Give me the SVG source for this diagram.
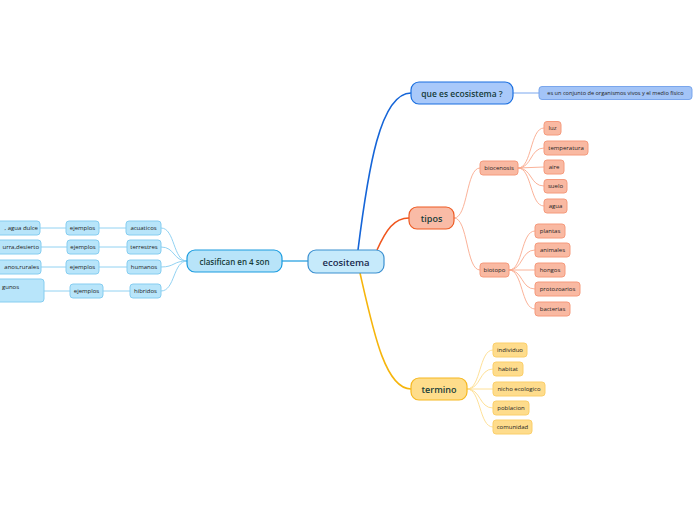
<svg xmlns="http://www.w3.org/2000/svg" width="696" height="520" viewBox="0 0 696 520">
<style>
text{font-family:"Open Sans","Noto Sans","DejaVu Sans",sans-serif;text-anchor:middle;dominant-baseline:central}
.main{font-size:9px;fill:#173d3a;font-weight:600}
.leaf{font-size:6px;fill:#222}
.blueL{fill:#b8e5fa;stroke:#86cdf0;stroke-width:1}
.org{fill:#f9b9a2;stroke:#f59a7d;stroke-width:1}
.yel{fill:#fedc8c;stroke:#fbcf6a;stroke-width:1}
.c{fill:none}
</style>
<rect width="696" height="520" fill="#fff"/>
<g id="connectors" class="c">
<path d="M358,250 C368,170 380,93 411,93" stroke="#1565d8" stroke-width="1.6" fill="none"/>
<path d="M377,250 C386,230 394,218 409,218" stroke="#f0561e" stroke-width="1.6" fill="none"/>
<path d="M360,273 C373,330 385,389 411,389" stroke="#f6b50c" stroke-width="1.6" fill="none"/>
<path d="M282,261 L308,261" stroke="#1a9ce0" stroke-width="1.2" fill="none"/>
<path d="M513,93 L539,93" stroke="#7aa7ee" stroke-width="1" fill="none"/>
<g stroke="#f9a98d" stroke-width="0.9" fill="none">
<path d="M454,218 C468,218 466,168 480,168"/>
<path d="M454,218 C468,218 466,270 480,270"/>
<path d="M518,168 C532,168 530,128 544,128"/>
<path d="M518,168 C532,168 530,148 544,148"/>
<path d="M518,168 L544,167"/>
<path d="M518,168 C532,168 530,186 544,186"/>
<path d="M518,168 C532,168 530,206 544,206"/>
<path d="M509,270 C523,270 521,231 535,231"/>
<path d="M509,270 C523,270 521,250 535,250"/>
<path d="M509,270 L535,270"/>
<path d="M509,270 C523,270 521,289 535,289"/>
<path d="M509,270 C523,270 521,309 535,309"/>
</g>
<g stroke="#fedc8c" stroke-width="0.9" fill="none">
<path d="M467,389 C481,389 479,350 493,350"/>
<path d="M467,389 C481,389 479,369 493,369"/>
<path d="M467,389 L493,389"/>
<path d="M467,389 C481,389 479,408 493,408"/>
<path d="M467,389 C481,389 479,427 493,427"/>
</g>
<g stroke="#86cdf0" stroke-width="0.9" fill="none">
<path d="M187,261 C173,261 175,228 161,228"/>
<path d="M187,261 C173,261 175,247 161,247"/>
<path d="M187,261 C173,261 175,267 161,267"/>
<path d="M187,261 C173,261 175,291 161,291"/>
<path d="M126,228 L99,228"/>
<path d="M127,247 L99,247"/>
<path d="M127,267 L99,267"/>
<path d="M130,291 L103,291"/>
<path d="M66,228 L40,228"/>
<path d="M67,247 L41,247"/>
<path d="M66,267 L41,267"/>
<path d="M70,291 L44,291"/>
</g>
</g>
<g id="ecositema"><rect x="308" y="250" width="76" height="23" rx="8" fill="#c6eafb" stroke="#3a8fd0" stroke-width="1.2"/><text x="346" y="262" class="main" style="font-size:9.5px;fill:#1a2a50">ecositema</text></g>
<g id="clasifican"><rect x="187" y="250" width="95" height="22" rx="8" fill="#b8e4f9" stroke="#1a9ce0" stroke-width="1.2"/><text x="234.5" y="261" class="main" style="font-size:8px">clasifican en 4 son</text></g>
<g id="queEs"><rect x="411" y="82" width="102" height="22" rx="8" fill="#a9c9fa" stroke="#1a6fe0" stroke-width="1.2"/><text x="462" y="93" class="main" style="font-size:8.5px">que es ecosistema ?</text></g>
<g id="conjunto"><rect x="539" y="86.5" width="153" height="13" rx="3" fill="#a3c4f7" stroke="#6f9fea" stroke-width="0.9"/><text x="615.5" y="93" class="leaf" style="font-size:5.6px">es un conjunto de organismos vivos y el medio físico</text></g>
<g id="tipos"><rect x="409" y="207" width="45" height="22" rx="8" fill="#f9bba6" stroke="#ee5a22" stroke-width="1.2"/><text x="431.5" y="218" class="main">tipos</text></g>
<g id="biocenosis"><rect x="480" y="161" width="38" height="14" rx="3" class="org"/><text x="499" y="168" class="leaf">biocenosis</text></g>
<g id="luz"><rect x="544" y="121.5" width="17" height="13.5" rx="3" class="org"/><text x="552.5" y="128" class="leaf">luz</text></g>
<g id="temperatura"><rect x="544" y="141" width="44" height="14" rx="3" class="org"/><text x="566" y="148" class="leaf">temperatura</text></g>
<g id="aire"><rect x="544" y="160" width="20" height="14" rx="3" class="org"/><text x="554" y="167" class="leaf">aire</text></g>
<g id="suelo"><rect x="544" y="179.5" width="23" height="13.5" rx="3" class="org"/><text x="555.5" y="186" class="leaf">suelo</text></g>
<g id="agua"><rect x="544" y="199" width="23" height="14" rx="3" class="org"/><text x="555.5" y="206" class="leaf">agua</text></g>
<g id="biotopo"><rect x="480" y="263" width="29" height="14" rx="3" class="org"/><text x="494.5" y="270" class="leaf">biotopo</text></g>
<g id="plantas"><rect x="535" y="224" width="30" height="14" rx="3" class="org"/><text x="550" y="231" class="leaf">plantas</text></g>
<g id="animales"><rect x="535" y="243" width="35" height="14" rx="3" class="org"/><text x="552.5" y="250" class="leaf">animales</text></g>
<g id="hongos"><rect x="535" y="263" width="30" height="14" rx="3" class="org"/><text x="550" y="270" class="leaf">hongos</text></g>
<g id="protozoarios"><rect x="535" y="282" width="45" height="14" rx="3" class="org"/><text x="557.5" y="289" class="leaf">protozoarios</text></g>
<g id="bacterias"><rect x="535" y="302" width="35" height="14" rx="3" class="org"/><text x="552.5" y="309" class="leaf">bacterias</text></g>
<g id="termino"><rect x="411" y="378" width="56" height="22" rx="8" fill="#fedd8b" stroke="#f6b820" stroke-width="1.2"/><text x="439" y="389" class="main">termino</text></g>
<g id="individuo"><rect x="493" y="343" width="34" height="14" rx="3" class="yel"/><text x="510" y="350" class="leaf">individuo</text></g>
<g id="habitat"><rect x="493" y="362" width="30" height="14" rx="3" class="yel"/><text x="508" y="369" class="leaf">habitat</text></g>
<g id="nicho"><rect x="493" y="382" width="52" height="14" rx="3" class="yel"/><text x="519" y="389" class="leaf">nicho ecologico</text></g>
<g id="poblacion"><rect x="493" y="401" width="36" height="14" rx="3" class="yel"/><text x="511" y="408" class="leaf">poblacion</text></g>
<g id="comunidad"><rect x="493" y="420" width="39" height="14" rx="3" class="yel"/><text x="512.5" y="427" class="leaf">comunidad</text></g>
<g id="acuaticos"><rect x="126" y="221" width="35" height="14" rx="3" class="blueL"/><text x="143.5" y="228" class="leaf">acuaticos</text></g>
<g id="terrestres"><rect x="127" y="240" width="34" height="14" rx="3" class="blueL"/><text x="144" y="247" class="leaf">terrestres</text></g>
<g id="humanos"><rect x="127" y="260" width="34" height="14" rx="3" class="blueL"/><text x="144" y="267" class="leaf">humanos</text></g>
<g id="hibridos"><rect x="130" y="284" width="31" height="14" rx="3" class="blueL"/><text x="145.5" y="291" class="leaf">hibridos</text></g>
<g id="ejemplos1"><rect x="66" y="221" width="33" height="14" rx="3" class="blueL"/><text x="82.5" y="228" class="leaf">ejemplos</text></g>
<g id="ejemplos2"><rect x="67" y="240" width="32" height="14" rx="3" class="blueL"/><text x="83" y="247" class="leaf">ejemplos</text></g>
<g id="ejemplos3"><rect x="66" y="260" width="33" height="14" rx="3" class="blueL"/><text x="82.5" y="267" class="leaf">ejemplos</text></g>
<g id="ejemplos4"><rect x="70" y="284" width="33" height="14" rx="3" class="blueL"/><text x="86.5" y="291" class="leaf">ejemplos</text></g>
<g id="ej1"><rect x="-20" y="221" width="60" height="14" rx="3" class="blueL"/><text x="38" y="228" class="leaf" style="text-anchor:end">, agua dulce</text></g>
<g id="ej2"><rect x="-20" y="240" width="61" height="14" rx="3" class="blueL"/><text x="39" y="247" class="leaf" style="text-anchor:end">urra,desierto</text></g>
<g id="ej3"><rect x="-20" y="260" width="61" height="14" rx="3" class="blueL"/><text x="39" y="267" class="leaf" style="text-anchor:end">anos,rurales</text></g>
<g id="ej4"><rect x="-20" y="279" width="64" height="23" rx="3" class="blueL"/><text x="2" y="287" class="leaf" style="text-anchor:start">gunos</text></g>
</svg>
